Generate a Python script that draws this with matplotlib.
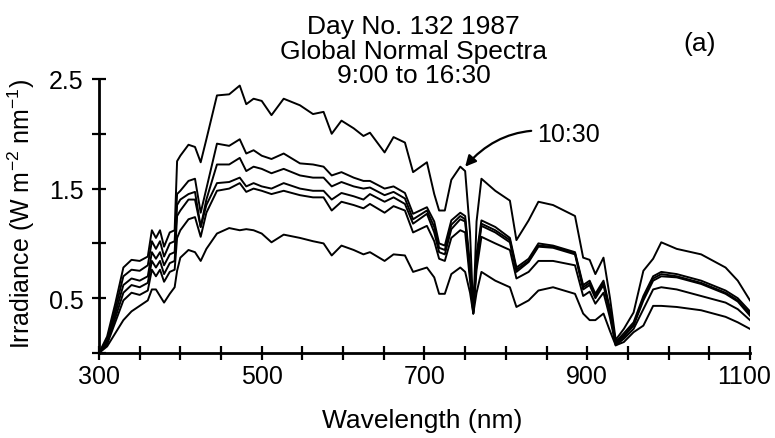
import matplotlib
matplotlib.use("Agg")
import matplotlib.pyplot as plt
from matplotlib.ticker import FixedLocator, FixedFormatter
from matplotlib.transforms import ScaledTranslation

plt.rcParams['font.family'] = ['Liberation Sans', 'DejaVu Sans']
plt.rcParams['mathtext.fontset'] = 'custom'
plt.rcParams['mathtext.rm'] = 'Liberation Sans'

wavelength = [300, 310, 320, 330, 340, 350, 360, 365, 370, 375, 380, 387, 393, 396, 400,
              410, 418, 425, 432, 445, 460, 473, 481, 490, 500, 512, 527, 547, 563, 576,
              586, 598, 613, 625, 633, 651, 662, 676, 686, 703, 712, 718, 725, 733, 744,
              750, 756, 760, 764, 770, 787, 805, 813, 828, 840, 858, 885, 895, 903, 910,
              920, 928, 935, 945, 957, 969, 981, 991, 1010, 1040, 1070, 1085, 1100]

spec_1030 = [0, 0.15, 0.45, 0.78, 0.85, 0.84, 0.88, 1.12, 1.05, 1.12, 0.97, 1.10, 1.12, 1.75, 1.80,
             1.90, 1.88, 1.74, 1.95, 2.35, 2.36, 2.44, 2.27, 2.32, 2.30, 2.17, 2.32, 2.26, 2.18, 2.20,
             2.00, 2.12, 2.05, 1.98, 2.01, 1.83, 1.97, 1.92, 1.65, 1.74, 1.45, 1.30, 1.30, 1.58, 1.70,
             1.66, 1.10, 0.36, 1.20, 1.59, 1.48, 1.39, 1.03, 1.21, 1.38, 1.35, 1.25, 0.87, 0.85, 0.72,
             0.87, 0.50, 0.12, 0.22, 0.37, 0.75, 0.86, 1.01, 0.95, 0.90, 0.78, 0.66, 0.48]

spec_b = [0, 0.12, 0.40, 0.70, 0.76, 0.75, 0.80, 1.02, 0.95, 1.02, 0.88, 1.00, 1.02, 1.45, 1.48,
          1.57, 1.59, 1.28, 1.50, 1.91, 1.89, 1.95, 1.82, 1.85, 1.80, 1.77, 1.82, 1.73, 1.72, 1.70,
          1.62, 1.65, 1.60, 1.57, 1.57, 1.50, 1.52, 1.46, 1.27, 1.33, 1.20, 1.00, 0.98, 1.21, 1.28,
          1.25, 0.80, 0.40, 0.90, 1.21, 1.15, 1.05, 0.78, 0.86, 1.00, 0.98, 0.92, 0.62, 0.66, 0.54,
          0.66, 0.40, 0.10, 0.18, 0.28, 0.52, 0.70, 0.74, 0.72, 0.66, 0.57, 0.50, 0.38]

spec_c = [0, 0.10, 0.36, 0.62, 0.68, 0.66, 0.70, 0.92, 0.86, 0.92, 0.80, 0.90, 0.92, 1.35, 1.40,
          1.45, 1.47, 1.15, 1.40, 1.72, 1.72, 1.78, 1.66, 1.70, 1.68, 1.64, 1.68, 1.62, 1.60, 1.60,
          1.52, 1.56, 1.52, 1.50, 1.51, 1.44, 1.47, 1.41, 1.22, 1.30, 1.15, 0.96, 0.94, 1.17, 1.25,
          1.22, 0.75, 0.38, 0.85, 1.18, 1.12, 1.03, 0.76, 0.84, 0.98, 0.97, 0.91, 0.60, 0.64, 0.52,
          0.64, 0.38, 0.09, 0.16, 0.26, 0.50, 0.68, 0.72, 0.70, 0.64, 0.55, 0.48, 0.36]

spec_d = [0, 0.09, 0.32, 0.55, 0.62, 0.60, 0.64, 0.84, 0.78, 0.84, 0.72, 0.82, 0.84, 1.25, 1.30,
          1.40, 1.40, 1.15, 1.35, 1.55, 1.56, 1.60, 1.52, 1.55, 1.52, 1.50, 1.55, 1.50, 1.48, 1.48,
          1.40, 1.46, 1.43, 1.40, 1.45, 1.38, 1.42, 1.36, 1.18, 1.27, 1.10, 0.92, 0.90, 1.13, 1.22,
          1.20, 0.72, 0.37, 0.82, 1.16, 1.10, 1.01, 0.74, 0.83, 0.97, 0.96, 0.90, 0.58, 0.62, 0.50,
          0.62, 0.36, 0.08, 0.15, 0.25, 0.48, 0.66, 0.70, 0.69, 0.63, 0.54, 0.47, 0.34]

spec_e = [0, 0.08, 0.28, 0.48, 0.55, 0.53, 0.57, 0.76, 0.70, 0.76, 0.65, 0.74, 0.76, 1.05, 1.12,
          1.22, 1.24, 1.06, 1.28, 1.48, 1.50, 1.55, 1.47, 1.50, 1.48, 1.45, 1.48, 1.44, 1.42, 1.42,
          1.30, 1.38, 1.35, 1.32, 1.36, 1.28, 1.34, 1.30, 1.10, 1.16, 1.02, 0.86, 0.84, 1.05, 1.12,
          1.10, 0.66, 0.36, 0.76, 1.06, 1.00, 0.94, 0.68, 0.74, 0.84, 0.84, 0.80, 0.52, 0.56, 0.45,
          0.55, 0.32, 0.07, 0.13, 0.22, 0.40, 0.58, 0.60, 0.58, 0.52, 0.46, 0.40, 0.30]

spec_f = [0, 0.06, 0.18, 0.30, 0.38, 0.43, 0.48, 0.58, 0.58, 0.52, 0.46, 0.54, 0.60, 0.75, 0.87,
          0.94, 0.92, 0.84, 0.95, 1.09, 1.14, 1.12, 1.13, 1.12, 1.09, 1.01, 1.08, 1.05, 1.02, 1.00,
          0.89, 0.98, 0.94, 0.90, 0.92, 0.84, 0.90, 0.89, 0.74, 0.78, 0.69, 0.54, 0.54, 0.72, 0.78,
          0.74, 0.55, 0.36, 0.55, 0.74, 0.66, 0.60, 0.42, 0.48, 0.57, 0.60, 0.54, 0.36, 0.30, 0.30,
          0.36, 0.20, 0.07, 0.10, 0.19, 0.25, 0.43, 0.43, 0.42, 0.39, 0.33, 0.28, 0.22]

spectra = [spec_1030, spec_b, spec_c, spec_d, spec_e, spec_f]

x_ticks = list(range(300, 1101, 50))
x_labels = [str(t) if t in (300, 500, 700, 900, 1100) else '' for t in x_ticks]
y_ticks = [0, 0.5, 1.0, 1.5, 2.0, 2.5]
y_labels = ['', '0.5', '', '1.5', '', '2.5']

title_lines = ['Day No. 132 1987', 'Global Normal Spectra', '9:00 to 16:30']

fig = plt.figure(figsize=(7.75, 4.39), dpi=100)
ax = fig.add_axes([0.1277, 0.1936, 0.84, 0.6242])

for s in spectra:
    ax.plot(wavelength, s, color='black', lw=1.4)

ax.set_xlim(300, 1100)
ax.set_ylim(0, 2.5)
ax.spines['top'].set_visible(False)
ax.spines['right'].set_visible(False)
for sp in ('left', 'bottom'):
    ax.spines[sp].set_linewidth(2.0)

ax.xaxis.set_major_locator(FixedLocator(x_ticks))
ax.xaxis.set_major_formatter(FixedFormatter(x_labels))
ax.yaxis.set_major_locator(FixedLocator(y_ticks))
ax.yaxis.set_major_formatter(FixedFormatter(y_labels))
ax.tick_params(axis='both', direction='inout', length=10, width=1.6, labelsize=18)
ax.tick_params(axis='x', pad=3)
ax.tick_params(axis='y', pad=6)

# nudge the last x tick label so it stays inside the figure
last = ax.xaxis.get_major_ticks()[-1].label1
last.set_transform(last.get_transform() + ScaledTranslation(-6 / 100, 0, fig.dpi_scale_trans))

ax.set_xlabel('Wavelength (nm)', fontsize=19)
ax.xaxis.set_label_coords(0.497, -0.20)
ax.set_ylabel('Irradiance (W m$^{-2}$ nm$^{-1}$)', fontsize=18)
ax.yaxis.set_label_coords(-0.095, 0.51)

baselines = [0.9226, 0.8656, 0.811]
for line, yb in zip(title_lines, baselines):
    fig.text(0.534, yb, line, ha='center', va='baseline', fontsize=19)
fig.text(0.903, 0.9, '(a)', ha='center', va='center', fontsize=19)

ax.annotate('10:30', xy=(750, 1.70), xytext=(838, 2.0), fontsize=18,
            ha='left', va='center',
            arrowprops=dict(arrowstyle='-|>', color='black', lw=1.6,
                            connectionstyle='arc3,rad=0.3', shrinkA=2, shrinkB=0,
                            mutation_scale=16))

fig.savefig('out.png', dpi=100)
